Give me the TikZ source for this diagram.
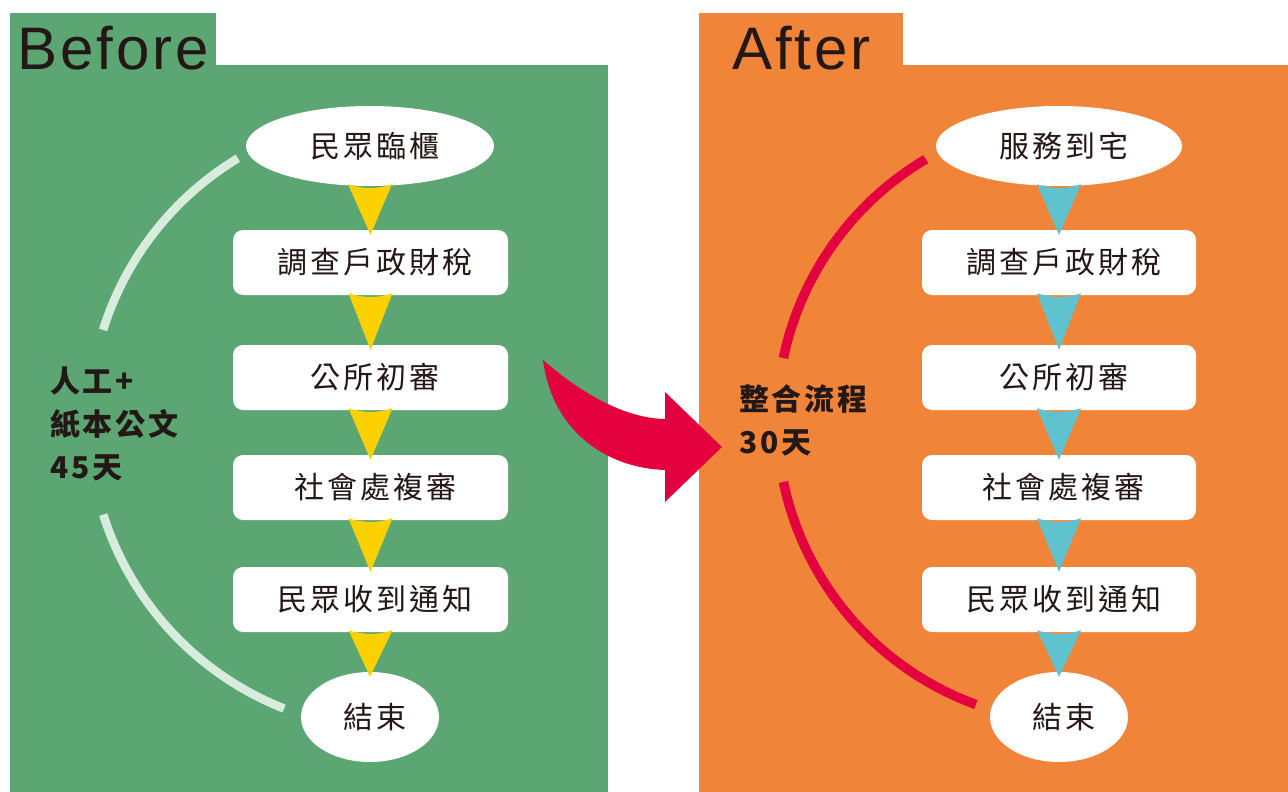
\documentclass[tikz,border=0pt]{standalone}
\usepackage{fontspec}
\setmainfont{Liberation Sans}
\newfontfamily\cjk[LetterSpace=10]{Noto Sans CJK TC}
\newfontfamily\cjklab[LetterSpace=9]{Noto Sans CJK TC}
\newfontfamily\titlefont[LetterSpace=5]{Liberation Sans}
\usetikzlibrary{shapes.geometric,calc}
\definecolor{bgGreen}{HTML}{5BA673}
\definecolor{bgOrange}{HTML}{F0853A}
\definecolor{triYellow}{HTML}{FDD000}
\definecolor{triCyan}{HTML}{5EC2CF}
\definecolor{arcRed}{HTML}{E4003F}
\definecolor{arcLight}{HTML}{D8ECDD}
\definecolor{ink}{HTML}{231815}
\newcommand\flowtri[3]{%
  \fill[#3] ($(#1.south)+(-22,-2)$) .. controls ($(#1.south)+(-8,3)$) and ($(#1.south)+(8,3)$) .. ($(#1.south)+(22,-2)$) -- ($(#2.north)+(0,5)$) -- cycle;}
\begin{document}
\begin{tikzpicture}[x=1pt,y=-1pt,
  oval/.style={ellipse,fill=white,inner sep=0pt,text=ink,font=\cjk\fontsize{30}{36}\selectfont,execute at begin node=\hspace*{9pt}},
  stepbox/.style={rectangle,rounded corners=10pt,fill=white,minimum width=275pt,minimum height=65pt,inner sep=0pt,text=ink,font=\cjk\fontsize{30}{36}\selectfont,execute at begin node=\hspace*{9pt}},
  sidelabel/.style={anchor=west,align=left,inner sep=0pt,text=ink,font=\cjklab\bfseries\fontsize{30}{43}\selectfont},
  titletext/.style={anchor=base west,inner sep=0pt,text=ink,font=\titlefont\fontsize{60}{60}\selectfont},
  lightarc/.style={draw=arcLight,line width=8.5pt},
  redarc/.style={draw=arcRed,line width=9.5pt}]
\useasboundingbox (0,0) rectangle (1288,792);
\fill[white] (0,0) rectangle (1288,792);
% panels
\fill[bgGreen] (10,13) rectangle (216,66);
\fill[bgGreen] (10,65) rectangle (608,792);
\fill[bgOrange] (699,13) rectangle (903,66);
\fill[bgOrange] (699,65) rectangle (1288,792);
\node[titletext] (tBefore) at (17,70) {Before};
\node[titletext] (tAfter) at (732,70) {After};
% big arrow
\fill[arcRed] (543,360) .. controls (575,388) and (620,418) .. (665,419) -- (665,392) -- (722,447) -- (665,502) -- (665,470) .. controls (605,468) and (552,430) .. (543,360) -- cycle;
% left arcs
\draw[lightarc] (397,422) ++(238.9:308) arc[start angle=238.9,end angle=197.4,radius=308];
\draw[lightarc] (397,422) ++(162.5:308) arc[start angle=162.5,end angle=111.5,radius=308];
% right arcs
\draw[redarc] (1080,420) ++(239.4:303) arc[start angle=239.4,end angle=191.8,radius=303];
\draw[redarc] (1080,420) ++(168.2:303) arc[start angle=168.2,end angle=110.1,radius=303];
% left flow
\node[oval,minimum width=248pt,minimum height=80pt] (L0) at (370,146) {民眾臨櫃};
\node[stepbox] (L1) at (370.5,262.5) {調查戶政財稅};
\node[stepbox] (L2) at (370.5,377.5) {公所初審};
\node[stepbox] (L3) at (370.5,487.5) {社會處複審};
\node[stepbox] (L4) at (370.5,599.5) {民眾收到通知};
\node[oval,minimum width=138pt,minimum height=90pt] (L5) at (370,717) {結束};
\flowtri{L0}{L1}{triYellow}
\flowtri{L1}{L2}{triYellow}
\flowtri{L2}{L3}{triYellow}
\flowtri{L3}{L4}{triYellow}
\flowtri{L4}{L5}{triYellow}
% right flow
\node[oval,minimum width=246pt,minimum height=80pt] (R0) at (1059,146) {服務到宅};
\node[stepbox,minimum width=274pt] (R1) at (1059,262.5) {調查戶政財稅};
\node[stepbox,minimum width=274pt] (R2) at (1059,377.5) {公所初審};
\node[stepbox,minimum width=274pt] (R3) at (1059,487.5) {社會處複審};
\node[stepbox,minimum width=274pt] (R4) at (1059,599.5) {民眾收到通知};
\node[oval,minimum width=138pt,minimum height=90pt] (R5) at (1059,717) {結束};
\flowtri{R0}{R1}{triCyan}
\flowtri{R1}{R2}{triCyan}
\flowtri{R2}{R3}{triCyan}
\flowtri{R3}{R4}{triCyan}
\flowtri{R4}{R5}{triCyan}
% side labels
\node[sidelabel] (lblL) at (50,424) {人工+\\紙本公文\\45天};
\node[sidelabel] (lblR) at (739,420) {整合流程\\30天};
\end{tikzpicture}
\end{document}
